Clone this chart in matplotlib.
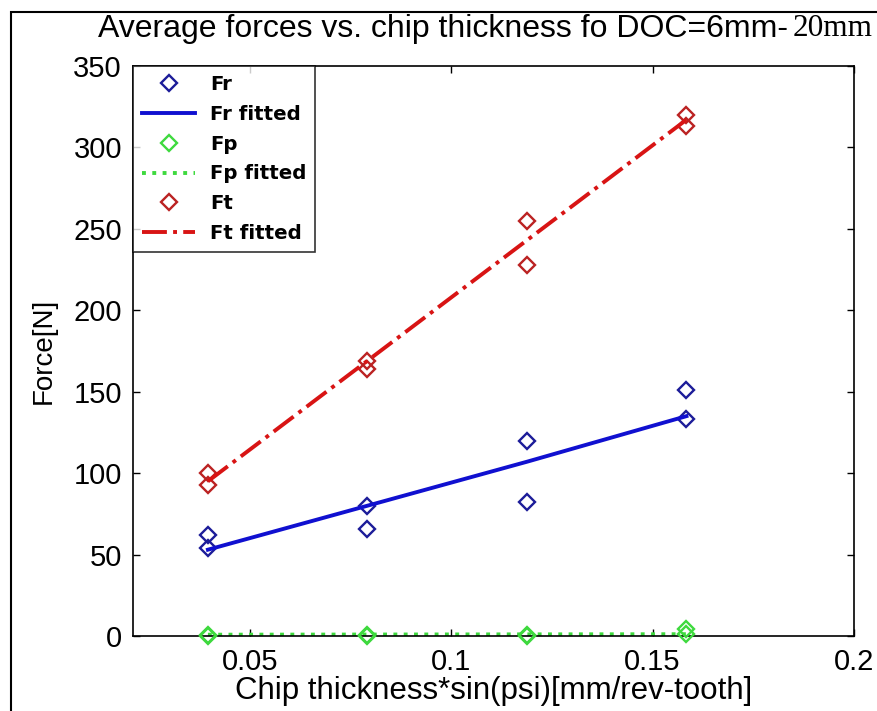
import matplotlib
matplotlib.use("Agg")
import matplotlib.pyplot as plt
from matplotlib.patches import Rectangle

x = [0.0396, 0.0792, 0.1188, 0.1584]
fr_a = [62, 80, 120, 151]
fr_b = [54, 66, 82, 133]
fp_a = [0.6, 0.5, 0.6, 4.0]
fp_b = [0.2, 0.3, 0.3, 1.5]
ft_a = [100, 169, 255, 320]
ft_b = [93, 164, 228, 313]
fr_fit = [53, 80, 107, 135]
fp_fit = [0.8, 0.9, 1.0, 1.1]
ft_fit = [95, 169, 243, 317]

xticks = [0.05, 0.1, 0.15, 0.2]
yticks = [0, 50, 100, 150, 200, 250, 300, 350]

plt.rcParams['font.family'] = ['Liberation Sans', 'DejaVu Sans']

W, H = 877, 711
fig = plt.figure(figsize=(W / 100, H / 100), dpi=100)
ax = fig.add_axes([133 / W, 1 - 636 / H, (854 - 133) / W, (636 - 66) / H])

mk = dict(marker='D', markersize=8, markerfacecolor='none', markeredgewidth=1.7, linestyle='none')
c_fr_m, c_fr_l = '#1c1c99', '#1010d0'
c_fp = '#3ed93e'
c_ft_m, c_ft_l = '#bb2222', '#d81414'

ax.plot(x, fr_a, color=c_fr_m, label='Fr', **mk)
ax.plot(x, fr_b, color=c_fr_m, **mk)
ax.plot(x, fr_fit, color=c_fr_l, lw=2.8, label='Fr fitted')
ax.plot(x, fp_a, color=c_fp, label='Fp', clip_on=False, zorder=5, **mk)
ax.plot(x, fp_b, color=c_fp, clip_on=False, zorder=5, **mk)
ax.plot(x, fp_fit, color=c_fp, lw=2.8, linestyle=':', label='Fp fitted')
ax.plot(x, ft_a, color=c_ft_m, label='Ft', **mk)
ax.plot(x, ft_b, color=c_ft_m, **mk)
ax.plot(x, ft_fit, color=c_ft_l, lw=2.8, linestyle='-.', label='Ft fitted')

ax.set_xlim(0.021, 0.2)
ax.set_ylim(0, 350)
ax.set_xticks(xticks)
ax.set_xticklabels([f'{t:g}' for t in xticks])
ax.set_yticks(yticks)
ax.tick_params(direction='in', length=5, width=1, labelsize=21, top=True, right=True)
ax.tick_params(axis='x', pad=9)
ax.tick_params(axis='y', pad=8)
for s in ax.spines.values():
    s.set_linewidth(1.2)

ax.set_xlabel('Chip thickness*sin(psi)[mm/rev-tooth]', fontsize=22.5, labelpad=0)
ax.set_ylabel('Force[N]', fontsize=20, labelpad=12)

leg = ax.legend(loc='upper left', borderaxespad=0, frameon=True, fancybox=False,
                prop={'weight': 'bold', 'size': 14.2, 'family': 'DejaVu Sans'},
                handlelength=2.7, handletextpad=0.75, labelspacing=0.55, borderpad=0.45)
leg.get_frame().set_edgecolor('black')
leg.get_frame().set_linewidth(1.2)

t1 = fig.text(98 / W, 1 - 29 / H, 'Average forces vs. chip thickness fo DOC=6mm-', fontsize=23,
              ha='left', va='center')
fig.canvas.draw()
bb = t1.get_window_extent(renderer=fig.canvas.get_renderer())
fig.text((bb.x1 + 5) / W, 1 - 29 / H, '20mm', fontsize=22.5, family='Liberation Serif',
         ha='left', va='center')

fig.patches.append(Rectangle((11 / W, -0.1), 1.2, 1 - 12 / H + 0.1, transform=fig.transFigure,
                             fill=False, edgecolor='black', linewidth=1.5))

fig.savefig('out.png', dpi=100)
